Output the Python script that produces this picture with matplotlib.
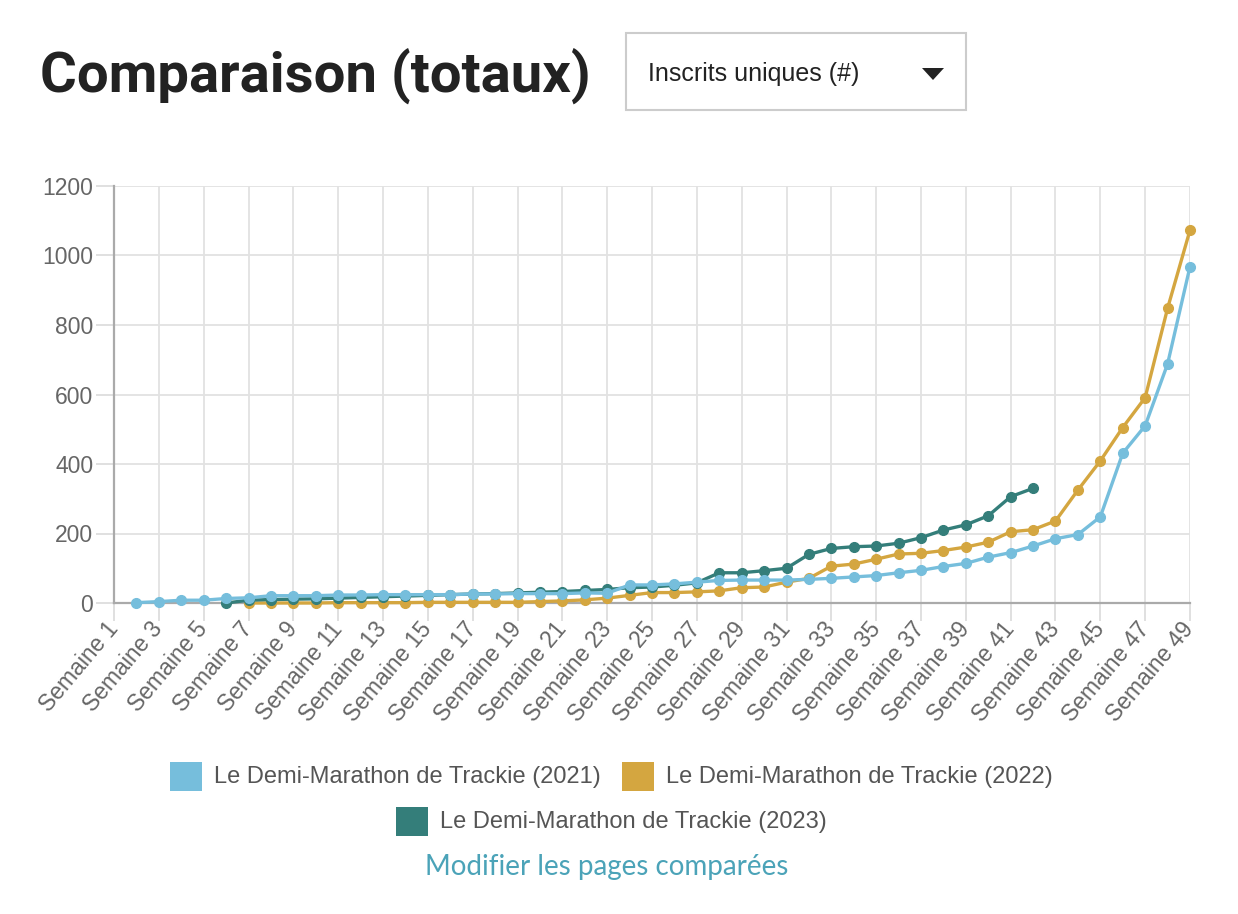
import matplotlib
matplotlib.use("Agg")
import matplotlib.pyplot as plt
from matplotlib.patches import Rectangle, Polygon

# data (cumulative unique registrants per week)
weeks = list(range(1, 50))
tick_weeks = list(range(1, 50, 2))
tick_labels = ["Semaine %d" % w for w in tick_weeks]

weeks_2021 = list(range(2, 50))
vals_2021 = [1, 4, 8, 8, 13, 15, 21, 21, 21, 23,
             23, 24, 24, 24, 24, 26, 26, 27, 27, 27,
             29, 28, 52, 52, 55, 60, 65, 66, 66, 66,
             68, 71, 75, 79, 87, 94, 105, 114, 132, 145,
             164, 185, 197, 248, 431, 510, 688, 968]

weeks_2022 = list(range(7, 50))
vals_2022 = [0, 0, 0, 0, 1, 1, 1, 1, 2, 2,
             2, 2, 2, 4, 6, 9, 14, 22, 30, 30,
             32, 35, 44, 46, 60, 71, 106, 112, 126, 141,
             143, 151, 161, 175, 205, 211, 236, 325, 409, 505,
             591, 848, 1073]

weeks_2023 = list(range(6, 43))
vals_2023 = [0, 8, 10, 11, 12, 14, 16, 18, 20, 22,
             24, 26, 27, 29, 31, 33, 36, 39, 44, 46,
             51, 58, 87, 87, 93, 100, 140, 157, 162, 164,
             172, 188, 210, 225, 251, 306, 330]

names = ["Le Demi-Marathon de Trackie (2021)",
         "Le Demi-Marathon de Trackie (2022)",
         "Le Demi-Marathon de Trackie (2023)"]
c_blue = "#76bedc"
c_gold = "#d4a640"
c_teal = "#347e7a"

W, H = 1238, 914

def px(x, y):
    return (x / W, 1 - y / H)

plt.rcParams['font.family'] = ['Liberation Sans', 'DejaVu Sans']

fig = plt.figure(figsize=(W / 100, H / 100), dpi=100)
fig.patch.set_facecolor("white")

ax = fig.add_axes([114 / W, (H - 603) / H, 1076 / W, 417 / H])

ax.plot(weeks_2022, vals_2022, color=c_gold, lw=2.4, marker="o", ms=7, zorder=3, clip_on=False)
ax.plot(weeks_2023, vals_2023, color=c_teal, lw=2.4, marker="o", ms=7, zorder=4, clip_on=False)
ax.plot(weeks_2021, vals_2021, color=c_blue, lw=2.4, marker="o", ms=7, zorder=5, clip_on=False)

ax.set_xlim(1, 49)
ax.set_ylim(0, 1200)
ax.set_yticks(range(0, 1201, 200))
ax.set_xticks(tick_weeks)
ax.set_xticklabels(tick_labels, rotation=50, ha="right", va="center", rotation_mode="anchor")
ax.tick_params(axis="both", colors="#dddddd", labelcolor="#666666", labelsize=16.5, length=13, width=1.3)
ax.tick_params(axis="x", pad=3)
ax.tick_params(axis="y", pad=2)
ax.grid(True, color="#e2e2e2", lw=1.3)
ax.set_axisbelow(True)
for s in ["top", "right"]:
    ax.spines[s].set_visible(False)
for s in ["left", "bottom"]:
    ax.spines[s].set_color("#aaaaaa")
    ax.spines[s].set_linewidth(1.6)

# title and dropdown
fig.text(*px(40, 76), "Comparaison (totaux)", fontsize=40.5, fontweight="bold", color="#222222",
         va="center", ha="left", family=["Roboto", "DejaVu Sans"])
fig.add_artist(Rectangle(px(626, 110), 340 / W, 77 / H, transform=fig.transFigure,
                         fill=False, ec="#cccccc", lw=1.5))
fig.text(*px(648, 74), "Inscrits uniques (#)", fontsize=18, color="#222222", va="center", ha="left")
fig.add_artist(Polygon([px(922, 68), px(944, 68), px(933, 80)], closed=True,
                       transform=fig.transFigure, fc="#222222", ec="none"))

# legend
legend_items = [(names[0], c_blue, 170, 777), (names[1], c_gold, 622, 777), (names[2], c_teal, 396, 822)]
for label, col, x0, yc in legend_items:
    fig.add_artist(Rectangle(px(x0, yc + 14), 32 / W, 29 / H, transform=fig.transFigure,
                             fc=col, ec="none"))
    fig.text(*px(x0 + 44, yc), label, fontsize=17, color="#555555", va="center", ha="left")

fig.text(*px(607, 867), "Modifier les pages comparées", fontsize=20, color="#4ba3b8",
         va="center", ha="center", family=["Lato", "DejaVu Sans"])

fig.savefig("out.png", dpi=100)
